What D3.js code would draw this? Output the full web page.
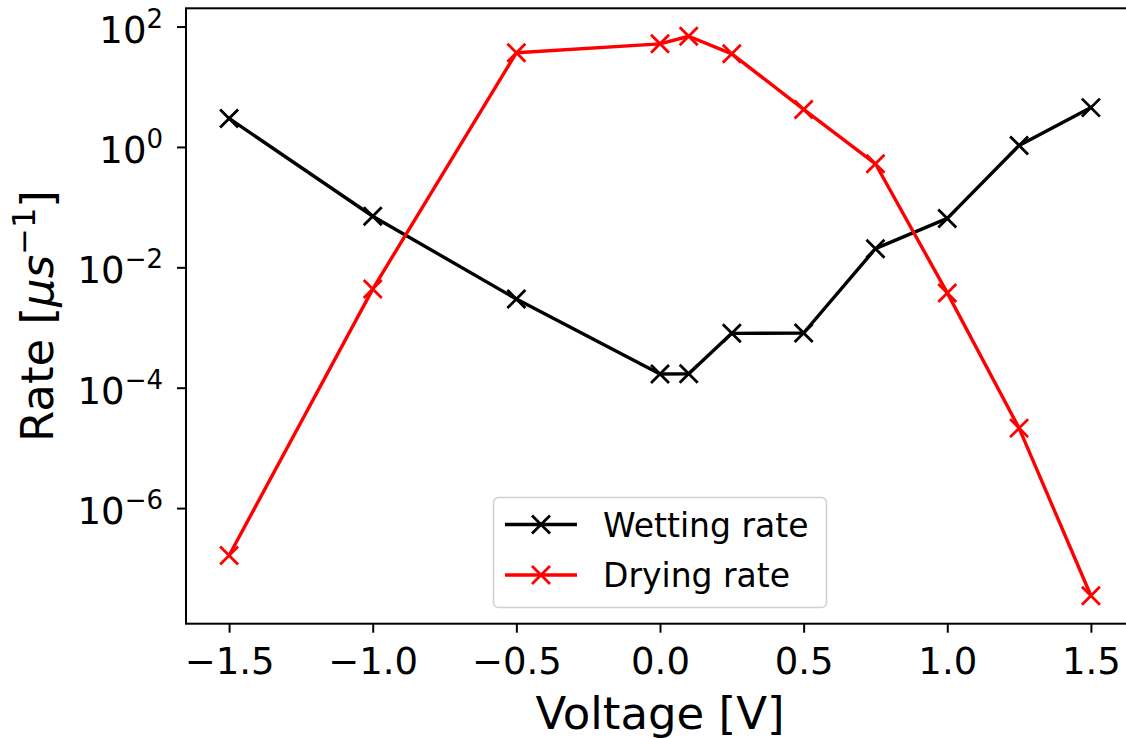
<!DOCTYPE html>
<html>
<head>
<meta charset="utf-8">
<script src="https://cdn.jsdelivr.net/npm/d3@7"></script>
<style>
  html, body { margin: 0; padding: 0; background: #fff; }
  svg { display: block; font-family: "DejaVu Sans", sans-serif; }
</style>
</head>
<body>
<svg id="chart" width="1126" height="738"></svg>
<script>
// ---- data ----
const voltages = [-1.5, -1.0, -0.5, 0.0, 0.1, 0.25, 0.5, 0.75, 1.0, 1.25, 1.5];
const wettingRate = [2.98, 0.0706, 0.00297, 1.69e-4, 1.70e-4, 8.0e-4, 8.1e-4, 0.0204, 0.0650, 1.06, 4.5];
const dryingRate = [1.63e-7, 0.00435, 36.7, 51.6, 69.0, 35.2, 4.2, 0.525, 0.00376, 2.13e-5, 3.5e-8];
const xTicks = [-1.5, -1.0, -0.5, 0.0, 0.5, 1.0, 1.5];
const yTickExponents = [-6, -4, -2, 0, 2];
const seriesNames = ["Wetting rate", "Drying rate"];
const seriesColors = ["#000000", "#ff0000"];

// ---- layout ----
const svg = d3.select("#chart");
const mLeft = 186, mRight = 1134, mTop = 8.3, mBottom = 623.7;

const x = d3.scaleLinear().domain([-1.65, 1.65]).range([mLeft, mRight]);
const y = d3.scaleLog().domain([1.2e-8, 201]).range([mBottom, mTop]);

// ---- lines ----
const series = [wettingRate, dryingRate];
const line = d3.line().x(d => x(d[0])).y(d => y(d[1]));
const mk = 9;

series.forEach((vals, i) => {
  const pts = voltages.map((v, j) => [v, vals[j]]);
  const g = svg.append("g");
  g.append("path")
    .attr("d", line(pts))
    .attr("fill", "none")
    .attr("stroke", seriesColors[i])
    .attr("stroke-width", 3.4)
    .attr("stroke-linejoin", "round")
    .attr("stroke-linecap", "square");
  g.selectAll("path.m").data(pts).enter().append("path")
    .attr("class", "m")
    .attr("d", d => {
      const cx = x(d[0]), cy = y(d[1]);
      return `M${cx - mk},${cy - mk}L${cx + mk},${cy + mk}M${cx - mk},${cy + mk}L${cx + mk},${cy - mk}`;
    })
    .attr("stroke", seriesColors[i])
    .attr("stroke-width", 2.8)
    .attr("fill", "none");
});

// ---- frame ----
svg.append("rect")
  .attr("x", mLeft).attr("y", mTop)
  .attr("width", mRight - mLeft).attr("height", mBottom - mTop)
  .attr("fill", "none").attr("stroke", "#000").attr("stroke-width", 2);

// ---- x axis ----
const xAxis = d3.axisBottom(x)
  .tickValues(xTicks)
  .tickSize(9)
  .tickPadding(9)
  .tickFormat(d => d3.format(".1f")(d).replace("-", "\u2212"));
const gx = svg.append("g").attr("transform", `translate(0,${mBottom})`).call(xAxis);
gx.select(".domain").remove();
gx.selectAll(".tick line").attr("stroke", "#000").attr("stroke-width", 2);
gx.selectAll(".tick text")
  .attr("font-family", "DejaVu Sans")
  .attr("font-size", 37)
  .attr("fill", "#000")
  .attr("dy", null)
  .attr("y", 50);

// ---- y axis ----
const yAxis = d3.axisLeft(y)
  .tickValues(yTickExponents.map(e => Math.pow(10, e)))
  .tickSize(9)
  .tickFormat("");
const gy = svg.append("g").attr("transform", `translate(${mLeft},0)`).call(yAxis);
gy.select(".domain").remove();
gy.selectAll(".tick line").attr("stroke", "#000").attr("stroke-width", 2);
gy.selectAll(".tick").each(function(d, i) {
  const t = d3.select(this).append("text")
    .attr("x", -23)
    .attr("y", 15.5)
    .attr("text-anchor", "end")
    .attr("font-family", "DejaVu Sans")
    .attr("font-size", 37)
    .attr("fill", "#000");
  t.append("tspan").text("10");
  const e = yTickExponents[i];
  t.append("tspan")
    .attr("font-size", 26)
    .attr("dy", -15)
    .text(e < 0 ? "\u2212" + Math.abs(e) : String(e));
});

// ---- axis labels ----
svg.append("text")
  .attr("x", (mLeft + mRight) / 2)
  .attr("y", 729)
  .attr("text-anchor", "middle")
  .attr("font-size", 45)
  .attr("fill", "#000")
  .text("Voltage [V]");

const yl = svg.append("text")
  .attr("transform", `translate(53,${(mTop + mBottom) / 2}) rotate(-90)`)
  .attr("text-anchor", "middle")
  .attr("font-size", 45)
  .attr("fill", "#000");
yl.append("tspan").text("Rate [");
yl.append("tspan").attr("font-style", "italic").text("\u03bcs");
yl.append("tspan").attr("font-size", 32).attr("dy", -18).text("\u22121");
yl.append("tspan").attr("dy", 18).text("]");

// ---- legend ----
const lg = svg.append("g");
lg.append("rect")
  .attr("x", 493.5).attr("y", 497.5)
  .attr("width", 333).attr("height", 110)
  .attr("rx", 5)
  .attr("fill", "#fff").attr("fill-opacity", 0.8)
  .attr("stroke", "#d0d0d0").attr("stroke-width", 1.5);
const rowY = [524.5, 575];
seriesNames.forEach((name, i) => {
  const yy = rowY[i];
  lg.append("line")
    .attr("x1", 505).attr("x2", 577).attr("y1", yy).attr("y2", yy)
    .attr("stroke", seriesColors[i]).attr("stroke-width", 3.4);
  const cx = 541;
  lg.append("path")
    .attr("d", `M${cx - mk},${yy - mk}L${cx + mk},${yy + mk}M${cx - mk},${yy + mk}L${cx + mk},${yy - mk}`)
    .attr("stroke", seriesColors[i]).attr("stroke-width", 2.8);
  lg.append("text")
    .attr("x", 603).attr("y", yy + 12)
    .attr("font-size", 33)
    .attr("fill", "#000")
    .text(name);
});
</script>
</body>
</html>
